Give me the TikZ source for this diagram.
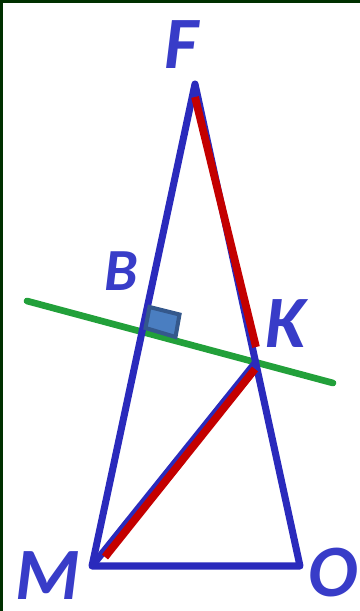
\documentclass[tikz,border=0pt]{standalone}
\usepackage{fontspec}
\newfontfamily\vertexfont{Carlito}
\usetikzlibrary{calc}

\definecolor{sideblue}{RGB}{42,42,188}
\definecolor{labelblue}{RGB}{56,60,200}
\definecolor{segred}{RGB}{196,0,0}
\definecolor{linegreen}{RGB}{34,160,58}
\definecolor{markfill}{RGB}{74,126,193}
\definecolor{markedge}{RGB}{52,88,140}
\definecolor{framegreen}{RGB}{0,48,0}

\begin{document}
\begin{tikzpicture}[
    line join=round,
    % pixel-like grid, y pointing down
    x=0.01cm, y=-0.01cm
]

% ---------------------------------------------------------
% FRAME (fixed size, dark edge on top and left only)
% ---------------------------------------------------------
\path [use as bounding box] (0,0) rectangle (360,611);
\fill[framegreen] (0,0) rectangle (360,3);
\fill[framegreen] (0,0) rectangle (3,611);

% Triangle vertices
\coordinate (F) at (195,84);  % Apex
\coordinate (M) at (92,566);  % Bottom Left
\coordinate (O) at (300,566); % Bottom Right

% Green line end points
\coordinate (G1) at (27,301);
\coordinate (G2) at (333,383);

% Points on the green line
\coordinate (B) at (intersection of F--M and G1--G2);
\coordinate (K) at (intersection of F--O and G1--G2);

% Ends of the red segments
\coordinate (FK1) at (195,97);
\coordinate (FK2) at (256,347);
\coordinate (MK1) at (105,557);
\coordinate (MK2) at (255,369);

\tikzset{side/.style={draw=sideblue, line width=2pt}}
\tikzset{redseg/.style={draw=segred, line width=2.2pt, line cap=butt}}
\tikzset{vlabel/.style={font=\vertexfont\bfseries\itshape\fontsize{21}{21}\selectfont,
    text=labelblue, inner sep=0pt, anchor=base}}

% ---------------------------------------------------------
% 1. GREEN LINE
% ---------------------------------------------------------
\draw[linegreen, line width=1.9pt, line cap=round] (G1) -- (G2);

% ---------------------------------------------------------
% 2. TRIANGLE AND SEGMENTS
% ---------------------------------------------------------
\draw[side] (M) -- (F) -- (O) -- cycle;
\draw[side] (M) -- (K);

\draw[redseg] (FK1) -- (FK2); % Along FO
\draw[redseg] (MK1) -- (MK2); % Along MK

% Right angle mark at B
\filldraw[fill=markfill, draw=markedge, line width=1.15pt, line join=miter]
    (149.5,307) -- (179.5,314.5) -- (175.5,337) -- (145.5,328) -- cycle;

% Labels
\node[vlabel] (lF) at (181,68) {F};
\node[vlabel, font=\vertexfont\bfseries\itshape\fontsize{17}{17}\selectfont] (lB) at (121,290) {B};
\node[vlabel] (lK) at (286,347) {K};
\node[vlabel] (lM) at (48,599) {M};
\node[vlabel] (lO) at (333,596) {O};

\end{tikzpicture}
\end{document}
